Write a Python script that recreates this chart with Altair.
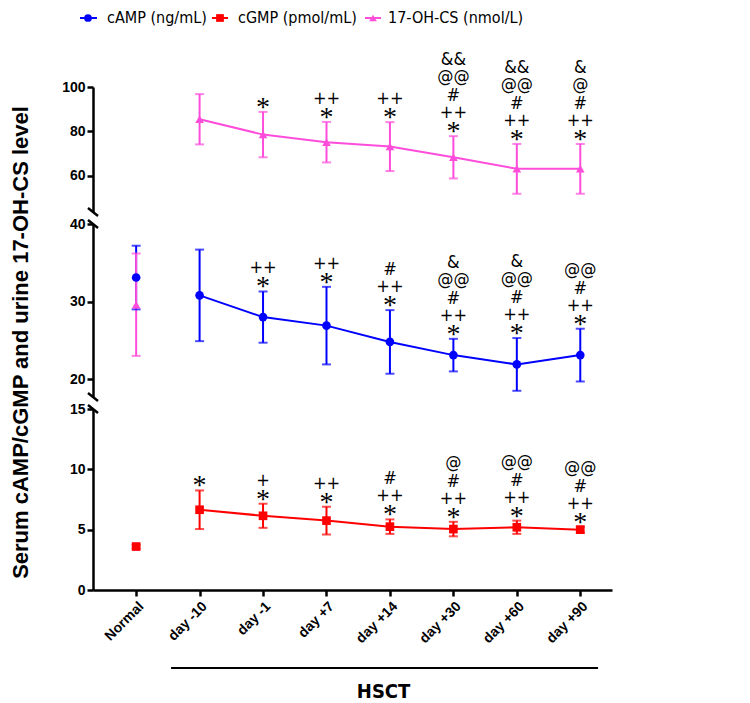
import json
import altair as alt
import pandas as pd

# ---------------- data ----------------
x_labels = ["Normal", "day -10", "day -1", "day +7", "day +14", "day +30", "day +60", "day +90"]
series_names = ["cAMP (ng/mL)", "cGMP (pmol/mL)", "17-OH-CS (nmol/L)"]
series_colors = ["#0000FF", "#FF0000", "#FF4DDB"]
series_shapes = ["circle", "square", "triangle-up"]

camp_mean = [33.1, 30.8, 28.0, 26.9, 24.8, 23.1, 21.9, 23.1]
camp_sd = [4.1, 5.9, 3.3, 5.0, 4.1, 2.1, 3.4, 3.4]
cgmp_mean = [3.6, 6.65, 6.15, 5.75, 5.25, 5.05, 5.2, 5.0]
cgmp_sd = [0.15, 1.6, 1.0, 1.15, 0.6, 0.6, 0.55, 0.25]
ohcs_mean = [29.6, 85.5, 78.6, 75.2, 73.2, 68.4, 63.2, 63.2]
ohcs_sd = [6.6, 11.3, 10.2, 9.1, 11.0, 9.5, 11.2, 11.2]

camp_sig = ["", "", "*|++", "*|++", "*|++|#", "*|++|#|@@|&", "*|++|#|@@|&", "*|++|#|@@"]
cgmp_sig = ["", "*", "*|+", "*|++", "*|++|#", "*|++|#|@", "*|++|#|@@", "*|++|#|@@"]
ohcs_sig = ["", "", "*", "*|++", "*|++", "*|++|#|@@|&&", "*|++|#|@@|&&", "*|++|#|@|&"]

# panels of the broken y axis: name, domain low, domain high, height, ticks
panels = [
    ("top", 43.8, 100, 125, [60, 80, 100]),
    ("mid", 17.7, 40, 173, [20, 30, 40]),
    ("bot", 0, 15, 181, [0, 5, 10, 15]),
]


def panel_of(v):
    for name, lo, hi, _, _ in panels:
        if lo <= v <= hi:
            return name
    return "bot"


rows, sig_rows = [], []
for s, means, sds, sigs in zip(series_names, [camp_mean, cgmp_mean, ohcs_mean],
                               [camp_sd, cgmp_sd, ohcs_sd], [camp_sig, cgmp_sig, ohcs_sig]):
    for i, (m, sd, sg) in enumerate(zip(means, sds, sigs)):
        p = panel_of(m)
        rows.append(dict(series=s, xi=i, mean=m, lo=m - sd, hi=m + sd, panel=p))
        if sg:
            for lvl, sym in enumerate(sg.split("|")):
                sig_rows.append(dict(series=s, xi=i, top=m + sd, level=lvl, sym=sym, panel=p))
df = pd.DataFrame(rows)
sig = pd.DataFrame(sig_rows)

# ---------------- style ----------------
AX_FONT = "Liberation Sans"
NARROW = "Liberation Sans Narrow, DejaVu Sans Condensed, Liberation Sans"
SYM_FONT = "DejaVu Sans Condensed, DejaVu Sans"
STAR_FONT = "Liberation Serif"
W = 519
sig_dy = [-4, -23, -40, -59, -76]
sig_size = [28, 18, 18, 18, 18]
sig_font = [STAR_FONT, SYM_FONT, SYM_FONT, SYM_FONT, SYM_FONT]

color = alt.Color("series:N", scale=alt.Scale(domain=series_names, range=series_colors), legend=None)
shape = alt.Shape("series:N", scale=alt.Scale(domain=series_names, range=series_shapes), legend=None)
xscale = alt.Scale(domain=[-0.68, 7.5], nice=False, zero=False)
label_expr = json.dumps(x_labels) + "[datum.value]"

dummy = pd.DataFrame({"a": [0]})


def panel_chart(name, lo, hi, h, ticks):
    d = df[df.panel == name]
    sd_ = sig[sig.panel == name]
    if name == "bot":
        xaxis = alt.Axis(values=list(range(len(x_labels))), labelExpr=label_expr, labelAngle=-45,
                         title=None, grid=False, domainColor="black", domainWidth=2.5,
                         tickColor="black", tickWidth=2.5, tickSize=6, labelFont=AX_FONT,
                         labelFontSize=14, labelFontWeight="bold", labelColor="black", labelPadding=3)
    else:
        xaxis = None
    common = dict(values=ticks, grid=False, domainColor="black", domainWidth=2.5,
                  tickColor="black", tickWidth=2.5, tickSize=6, labelFont=AX_FONT,
                  labelFontSize=14, labelFontWeight="bold", labelColor="black", labelPadding=2)
    if name == "mid":
        yaxis = alt.Axis(title="Serum cAMP/cGMP and urine 17-OH-CS level", titleFont=AX_FONT,
                         titleFontSize=22, titleFontWeight="bold", titleColor="black", titleX=-66,
                         titleY=118, titleAngle=-90, titleBaseline="alphabetic", titleAlign="center",
                         **common)
    else:
        yaxis = alt.Axis(title=None, **common)
    ysc = alt.Scale(domain=[lo, hi], nice=False, zero=False)
    X = alt.X("xi:Q", scale=xscale, axis=xaxis)

    def Y(f):
        return alt.Y(f, type="quantitative", scale=ysc, axis=yaxis)

    base = alt.Chart(d)
    layers = [
        base.transform_filter("datum.xi >= 1").mark_line(strokeWidth=2).encode(
            x=X, y=Y("mean"), color=color, detail="series:N"),
        base.mark_rule(strokeWidth=2).encode(x=X, y=Y("lo"), y2="hi", color=color),
        base.mark_tick(orient="horizontal", size=9, thickness=2).encode(x=X, y=Y("lo"), color=color),
        base.mark_tick(orient="horizontal", size=9, thickness=2).encode(x=X, y=Y("hi"), color=color),
        base.mark_point(filled=True, opacity=1, size=75).encode(x=X, y=Y("mean"), color=color, shape=shape),
    ]
    for lvl in range(5):
        sub = sd_[sd_.level == lvl]
        if len(sub):
            layers.append(alt.Chart(sub).mark_text(font=sig_font[lvl], fontSize=sig_size[lvl], color="black",
                                                   baseline="middle", dy=sig_dy[lvl]).encode(
                x=X, y=Y("top"), text="sym:N"))
    # axis break marks
    brk_ys = {"top": [h], "mid": [0, h], "bot": [0]}[name]
    for by in brk_ys:
        layers.append(alt.Chart(dummy).mark_rule(color="black", strokeWidth=2.5).encode(
            x=alt.value(-5), x2=alt.value(5), y=alt.value(by - 4), y2=alt.value(by + 4)))
    if name == "top":
        leg_pos = [(-13, 4, -5, 14), (119, 135, 127, 145), (272, 288, 280, 295)]
        ly = -69
        for (x0, x1, xm, xt), nm, col, shp in zip(leg_pos, series_names, series_colors, series_shapes):
            layers.append(alt.Chart(dummy).mark_rule(color=col, strokeWidth=2).encode(
                x=alt.value(x0), x2=alt.value(x1), y=alt.value(ly)))
            layers.append(alt.Chart(dummy).mark_point(filled=True, opacity=1, size=60, color=col, shape=shp).encode(
                x=alt.value(xm), y=alt.value(ly)))
            layers.append(alt.Chart(dummy).mark_text(font=NARROW, fontSize=16, color="black", align="left",
                                                     baseline="middle").encode(
                x=alt.value(xt), y=alt.value(ly), text=alt.value(nm)))
    if name == "bot":
        layers.append(alt.Chart(dummy).mark_rule(color="black", strokeWidth=2).encode(
            x=alt.datum(0.55, scale=xscale), x2=alt.datum(7.28), y=alt.value(259)))
        layers.append(alt.Chart(dummy).mark_text(font=NARROW, fontSize=20, fontWeight="bold", color="black",
                                                 baseline="middle", align="center").encode(
            x=alt.datum(3.9), y=alt.value(283), text=alt.value("HSCT")))
    return alt.layer(*layers).properties(width=W, height=h)


charts = [panel_chart(*p) for p in panels]
chart = alt.vconcat(*charts, spacing=12, bounds="flush").properties(
    padding={"left": 0, "top": 2, "right": 5, "bottom": 0}, background="white"
).configure_view(strokeWidth=0, stroke=None)

chart.save("out.html", embed_options={"renderer": "svg", "actions": False})
